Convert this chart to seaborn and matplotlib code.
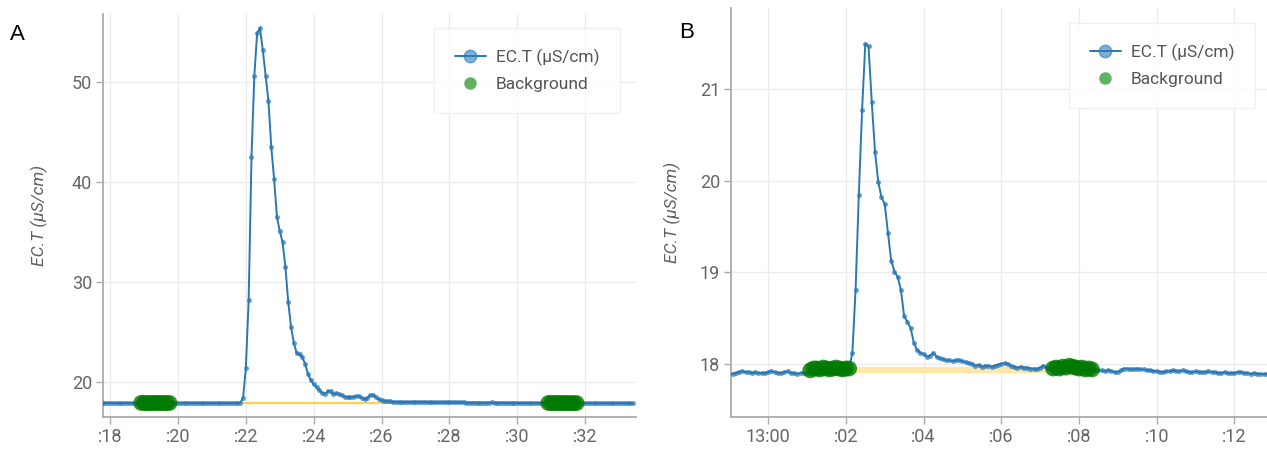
import numpy as np
import pandas as pd
import matplotlib
matplotlib.use("Agg")
import matplotlib.pyplot as plt
from matplotlib.lines import Line2D
from matplotlib.colors import to_rgba
import seaborn as sns

# ---------------- data ----------------
# Panel A: 5-second samples, minutes past the hour, starting at :17.75
A_start = 17.75
A_step = 1 / 12
A_values = [
    17.93, 17.92, 17.93, 17.94, 17.92, 17.93, 17.92, 17.91, 17.93, 17.94,
    17.93, 17.92, 17.93, 17.92, 17.94, 17.93, 17.92, 17.93, 17.93, 17.92,
    17.94, 17.93, 17.92, 17.92, 17.93, 17.93, 17.94, 17.92, 17.91, 17.92,
    17.93, 17.92, 17.93, 17.92, 17.92, 17.93, 17.91, 17.92, 17.93, 17.92,
    17.92, 17.91, 17.92, 17.93, 17.92, 17.92, 17.91, 17.92, 17.93, 17.95,
    18.4, 21.4, 28.2, 42.5, 50.6, 54.9, 55.4, 53.2, 50.6, 48.1,
    43.5, 40.3, 36.5, 35.1, 34.0, 31.5, 28.0, 25.5, 23.9, 22.9,
    22.8, 22.5, 21.8, 20.8, 20.2, 19.8, 19.5, 19.2, 18.95, 18.85,
    19.1, 19.1, 18.8, 18.9, 18.8, 18.7, 18.55, 18.5, 18.5, 18.55,
    18.6, 18.6, 18.45, 18.3, 18.45, 18.7, 18.75, 18.5, 18.3, 18.2,
    18.15, 18.1, 18.1, 18.05, 18.05,
    18.04, 18.03, 18.03, 18.02, 18.02, 18.01, 18.02, 18.03, 18.05, 18.04, 18.02, 18.01,
    18.0, 18.0, 17.99, 18.0, 18.01, 18.02, 18.01, 18.0, 17.99, 17.99, 17.98, 17.98,
    17.97, 17.97, 17.96, 17.97, 17.96, 17.96, 17.95, 17.96, 17.97, 17.98, 17.97, 17.96,
    17.95, 17.96, 17.95, 17.94, 17.94, 17.95, 17.94, 17.93, 17.94, 17.93, 17.93, 17.94,
    17.93, 17.92, 17.93, 17.93, 17.92, 17.93, 17.92, 17.92, 17.93, 17.92, 17.92, 17.93,
    17.92, 17.91, 17.92, 17.92, 17.91, 17.92, 17.91, 17.92, 17.91, 17.91, 17.92, 17.91,
    17.91, 17.90, 17.91, 17.91, 17.90, 17.91, 17.90, 17.90, 17.91, 17.90, 17.90, 17.90,
]
A_background_windows = [(18.9, 19.75), (30.85, 31.8)]
A_bgline_x = [19.33, 31.33]
A_bgline_y = [17.92, 17.92]
A_ticks = [18, 20, 22, 24, 26, 28, 30, 32]
A_ticklabels = [":18", ":20", ":22", ":24", ":26", ":28", ":30", ":32"]
A_yticks = [20, 30, 40, 50]

# Panel B: 5-second samples, minutes after 13:00, starting at 12:59:00
B_start = -1.0
B_step = 1 / 12
B_values = [
    17.89, 17.89, 17.90, 17.91, 17.92, 17.91, 17.91, 17.90, 17.91, 17.90,
    17.90, 17.90, 17.91, 17.92, 17.91, 17.90, 17.90, 17.91, 17.92, 17.90,
    17.90, 17.89, 17.90, 17.90, 17.90,
    17.93, 17.95, 17.95, 17.94, 17.96, 17.95, 17.94, 17.95, 17.96, 17.95, 17.94, 17.95, 17.95,
    18.12, 18.81, 19.85, 20.77, 21.50, 21.47, 20.86, 20.32, 19.99, 19.82,
    19.75, 19.43, 19.13, 19.01, 18.95, 18.81, 18.52, 18.46, 18.39, 18.23,
    18.15, 18.12, 18.11, 18.08, 18.09, 18.12, 18.08, 18.06, 18.05, 18.04,
    18.04, 18.03, 18.04, 18.04, 18.03, 18.02, 18.01, 18.00,
    17.98, 17.99, 17.97, 17.98, 17.98, 17.97, 17.98, 17.99, 18.00, 18.01, 18.00, 17.98,
    17.97, 17.96, 17.97, 17.96, 17.96, 17.95, 17.95, 17.94, 17.96, 17.98, 17.96, 17.94,
    17.95, 17.96, 17.95, 17.97, 17.96, 17.98, 17.97, 17.96, 17.95, 17.96, 17.94, 17.95, 17.94,
    17.93, 17.93, 17.93, 17.92, 17.93, 17.92, 17.91, 17.91, 17.93, 17.95, 17.95, 17.94,
    17.94, 17.95, 17.94, 17.94, 17.93, 17.93, 17.92, 17.92, 17.91, 17.91, 17.92, 17.92,
    17.93, 17.92, 17.92, 17.93, 17.92, 17.91, 17.91, 17.92, 17.91, 17.91, 17.91, 17.92,
    17.91, 17.91, 17.90, 17.90, 17.91, 17.90, 17.90, 17.90, 17.91, 17.91, 17.90, 17.90,
    17.89, 17.90, 17.89, 17.89, 17.89, 17.89,
]
B_background_windows = [(1.08, 2.12), (7.3, 8.36)]
B_bgline_x = [1.6, 7.85]
B_bgline_y = [17.93, 17.93]
B_ticks = [0, 2, 4, 6, 8, 10, 12]
B_ticklabels = ["13:00", ":02", ":04", ":06", ":08", ":10", ":12"]
B_yticks = [18, 19, 20, 21]

ylabel_text = "EC.T (µS/cm)"
legend_labels = ["EC.T (µS/cm)", "Background"]

# ---------------- style ----------------
sns.set_theme(style="white")
plt.rcParams["font.family"] = ["Roboto", "DejaVu Sans"]

BLUE = "#2878b8"
GREEN = "#007a00"
YELLOW_A = "#ffcf55"
YELLOW_B = "#fde7a8"
GRAY_TXT = "#666666"
SPINE = "#aaaaaa"
GRID = "#ececec"

W, H = 1267, 453
fig = plt.figure(figsize=(W / 100, H / 100), dpi=100)
axA = fig.add_axes([103 / W, 36 / H, 533 / W, 403 / H])
axB = fig.add_axes([731 / W, 36 / H, 536 / W, 409 / H])


def make_df(start, step, values):
    t = start + step * np.arange(len(values))
    return pd.DataFrame({"t": t, "v": values})


def draw(ax, df, windows, blx, bly, ywidth, ycolor, xlim, ylim, xticks, xlabels, yticks,
         legend_anchor, ylabel_x):
    sns.lineplot(data=pd.DataFrame({"t": blx, "v": bly}), x="t", y="v", ax=ax,
                 color=ycolor, linewidth=ywidth, zorder=2)
    sns.lineplot(data=df, x="t", y="v", ax=ax, color=BLUE, linewidth=1.4,
                 marker="o", markersize=3.6, markeredgewidth=0,
                 markerfacecolor=to_rgba(BLUE, 0.7), zorder=3)
    mask = np.zeros(len(df), dtype=bool)
    for lo, hi in windows:
        mask |= (df["t"] >= lo) & (df["t"] <= hi)
    sns.scatterplot(data=df[mask], x="t", y="v", ax=ax, color=GREEN, s=130,
                    alpha=0.8, edgecolor="none", zorder=4)
    ax.set_xlim(*xlim)
    ax.set_ylim(*ylim)
    ax.set_xticks(xticks)
    ax.set_xticklabels(xlabels)
    ax.set_yticks(yticks)
    ax.grid(True, color=GRID, linewidth=1.0)
    ax.set_axisbelow(True)
    for s in ["top", "right"]:
        ax.spines[s].set_visible(False)
    for s in ["left", "bottom"]:
        ax.spines[s].set_color(SPINE)
        ax.spines[s].set_linewidth(1.3)
    ax.tick_params(axis="both", which="both", direction="out", length=5, width=1,
                   color=SPINE, labelsize=13, labelcolor=GRAY_TXT, pad=3,
                   bottom=True, left=True)
    ax.set_xlabel("")
    ax.set_ylabel(ylabel_text, fontsize=12.5, color="#606060", style="italic")
    ax.yaxis.set_label_coords(ylabel_x, 0.5)

    handles = [
        Line2D([], [], color=BLUE, linewidth=1.4, marker="o", markersize=9,
               markerfacecolor=to_rgba(BLUE, 0.6), markeredgecolor=to_rgba(BLUE, 0.6)),
        Line2D([], [], linestyle="none", marker="o", markersize=9,
               markerfacecolor=to_rgba("#2a9a2a", 0.75), markeredgecolor="none"),
    ]
    leg = ax.legend(handles, legend_labels, loc="upper right",
                    bbox_to_anchor=legend_anchor, bbox_transform=fig.transFigure,
                    borderaxespad=0, frameon=True, fancybox=False, fontsize=12.5,
                    labelcolor="#555555", handlelength=1.8, handletextpad=0.55,
                    labelspacing=0.6, borderpad=1.2)
    leg.get_frame().set_edgecolor("#eeeeee")
    leg.get_frame().set_linewidth(1.0)
    leg.get_frame().set_facecolor("white")


dfA = make_df(A_start, A_step, A_values)
dfB = make_df(B_start, B_step, B_values)

draw(axA, dfA, A_background_windows, A_bgline_x, A_bgline_y, 1.6, YELLOW_A,
     (17.79, 33.5), (16.53, 56.8), A_ticks, A_ticklabels, A_yticks,
     (620 / W, 1 - 28 / H), -0.103)
draw(axB, dfB, B_background_windows, B_bgline_x, B_bgline_y, 4.5, YELLOW_B,
     (-0.957, 12.84), (17.42, 21.89), B_ticks, B_ticklabels, B_yticks,
     (1255 / W, 1 - 23 / H), -0.093)

fig.text(17 / W, 1 - 35 / H, "A", fontsize=16, ha="center", va="center",
         color="black", family=["Liberation Sans", "DejaVu Sans"])
fig.text(687 / W, 1 - 33 / H, "B", fontsize=16, ha="center", va="center",
         color="black", family=["Liberation Sans", "DejaVu Sans"])

fig.savefig("out.png", dpi=100)
